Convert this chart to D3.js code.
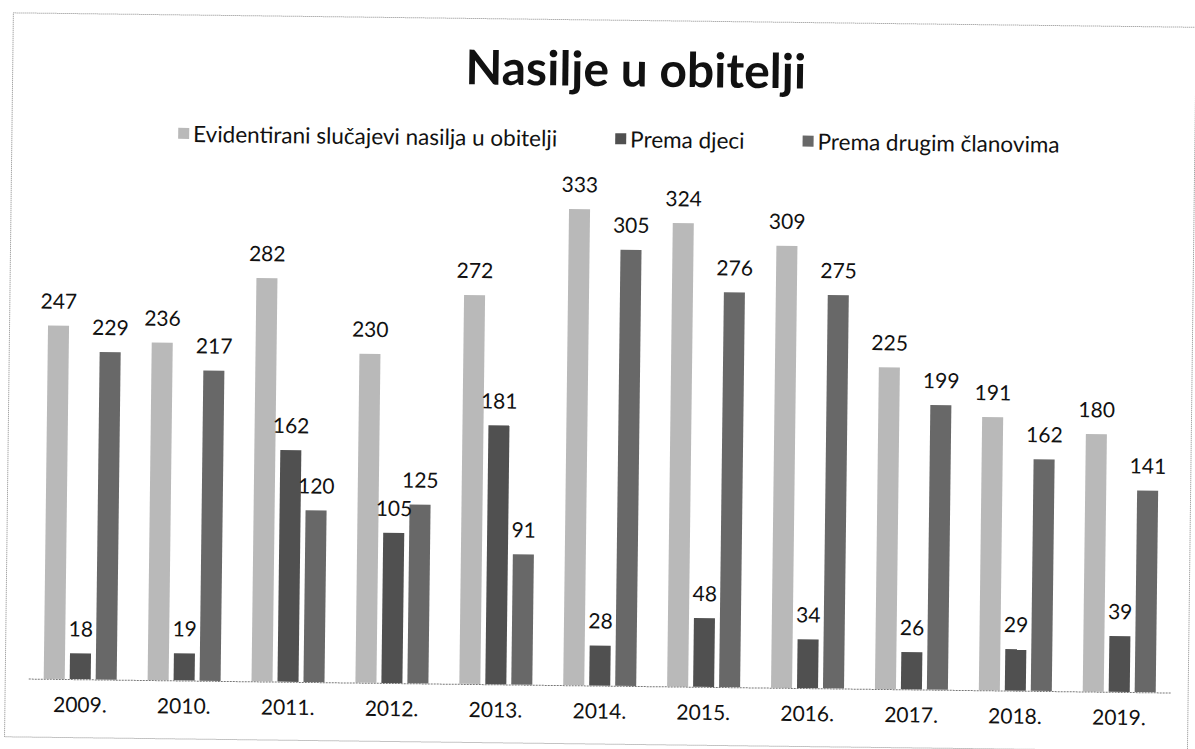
<!DOCTYPE html>
<html>
<head>
<meta charset="utf-8">
<script src="https://cdn.jsdelivr.net/npm/d3@7"></script>
<style>
  body { margin: 0; background: #fff; }
  text { font-family: Lato, "Open Sans", sans-serif; fill: #111; }
</style>
</head>
<body>
<div id="container"></div>
<script>
// data
let years = ["2009.", "2010.", "2011.", "2012.", "2013.", "2014.", "2015.", "2016.", "2017.", "2018.", "2019."];
let evidentirani = [247, 236, 282, 230, 272, 333, 324, 309, 225, 191, 180];
let premaDjeci = [18, 19, 162, 105, 181, 28, 48, 34, 26, 29, 39];
let premaDrugim = [229, 217, 120, 125, 91, 305, 276, 275, 199, 162, 141];
let seriesNames = ["Evidentirani slučajevi nasilja u obitelji", "Prema djeci", "Prema drugim članovima"];
let seriesColors = ["#b9b9b9", "#505050", "#686868"];

let w = 1195;
let h = 749;

let svg = d3.select("#container")
  .append("svg")
    .attr("width", w)
    .attr("height", h);

// the scan is tilted a little clockwise
let viz = svg.append("g")
  .attr("transform", "rotate(0.7," + 597 + "," + 375 + ")");

// dotted frame
viz.append("rect")
  .attr("x", 9)
  .attr("y", 20)
  .attr("width", 1183)
  .attr("height", 724)
  .attr("fill", "none")
  .attr("stroke", "#888")
  .attr("stroke-width", 1)
  .attr("stroke-dasharray", "1,1");

viz.append("text")
  .text("Nasilje u obitelji")
  .attr("x", 632)
  .attr("y", 86)
  .attr("text-anchor", "middle")
  .style("font-size", "48px")
  .style("font-weight", "bold");

let baseY = 685.5;

let x0 = d3.scaleBand()
  .domain(years)
  .range([32, 1175])
  .paddingInner(0.25)
  .paddingOuter(0.125);

let x1 = d3.scaleBand()
  .domain([0, 1, 2])
  .range([0, x0.bandwidth()])
  .paddingInner(0.19)
  .paddingOuter(0.095);

let y = d3.scaleLinear()
  .domain([0, 350])
  .range([baseY, baseY - 350 * 1.43]);

function groupValues(d, i) {
  return [evidentirani[i], premaDjeci[i], premaDrugim[i]];
}

let groups = viz.selectAll(".yeargroup").data(years).enter()
  .append("g")
    .attr("class", "yeargroup")
    .attr("transform", function(d) { return "translate(" + x0(d) + ",0)"; });

groups.each(function(d, i) {
  let vals = groupValues(d, i);
  let g = d3.select(this);
  g.selectAll("rect").data(vals).enter()
    .append("rect")
      .attr("x", function(v, j) { return x1(j); })
      .attr("y", function(v) { return y(v); })
      .attr("width", x1.bandwidth())
      .attr("height", function(v) { return baseY - y(v); })
      .attr("fill", function(v, j) { return seriesColors[j]; });
  g.selectAll("text").data(vals).enter()
    .append("text")
      .text(function(v) { return v; })
      .attr("x", function(v, j) { return x1(j) + x1.bandwidth() / 2; })
      .attr("y", function(v) { return y(v) - 17; })
      .attr("text-anchor", "middle")
      .style("font-size", "21px");
});

// x axis
let xAxis = d3.axisBottom(x0).tickSize(0).tickSizeOuter(0);
let axisG = viz.append("g")
  .attr("transform", "translate(0," + baseY + ")")
  .call(xAxis);
axisG.select(".domain")
  .attr("stroke", "#777")
  .attr("stroke-dasharray", "2,1");
axisG.selectAll("text")
  .attr("y", 33)
  .attr("dy", 0)
  .style("font-size", "21px")
  .style("font-family", "Lato, 'Open Sans', sans-serif")
  .attr("fill", "#111");

// legend
let legend = viz.append("g").attr("class", "legend");
let items = legend.selectAll(".item").data(seriesNames).enter()
  .append("g")
    .attr("class", "item");
items.append("rect")
  .attr("width", 11)
  .attr("height", 11)
  .attr("y", -14)
  .attr("fill", function(d, i) { return seriesColors[i]; });
items.append("text")
  .text(function(d) { return d; })
  .attr("x", 15)
  .style("font-size", "22.5px");

let gap = 58;
let offsets = [];
let total = 0;
items.each(function(d, i) {
  let tw = this.querySelector("text").getComputedTextLength();
  offsets.push(total);
  total += 15 + tw + (i < seriesNames.length - 1 ? gap : 0);
});
let legendStart = 616 - total / 2;
items.attr("transform", function(d, i) {
  return "translate(" + (legendStart + offsets[i]) + ",147)";
});
</script>
</body>
</html>
